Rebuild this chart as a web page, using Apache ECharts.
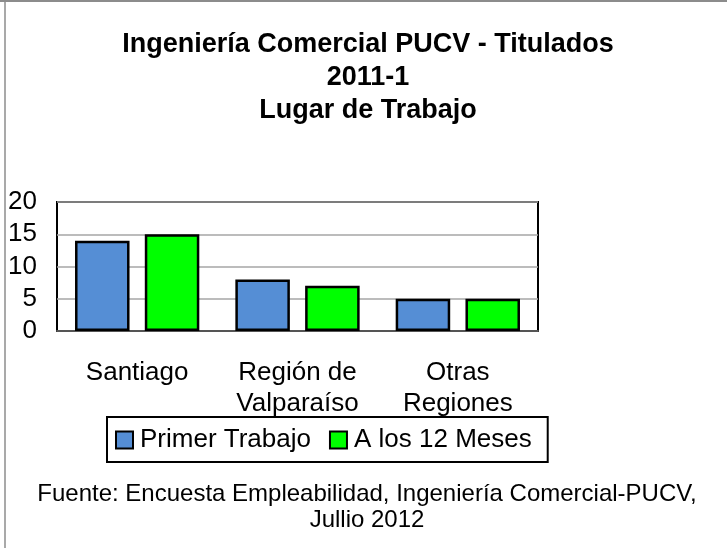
<!DOCTYPE html>
<html>
<head>
<meta charset="utf-8">
<script src="https://cdn.jsdelivr.net/npm/echarts@6/dist/echarts.min.js"></script>
<style>
  html, body { margin: 0; padding: 0; background: #fff; }
  #chart { width: 727px; height: 548px; }
</style>
</head>
<body>
<div id="chart"></div>
<script>
const categories = ['Santiago', 'Región de\nValparaíso', 'Otras\nRegiones']
const primerTrabajo = [14, 8, 5]
const aLos12Meses = [15, 7, 5]
const seriesNames = ['Primer Trabajo', 'A los 12 Meses']
const titleText = 'Ingeniería Comercial PUCV - Titulados\n2011-1\nLugar de Trabajo'
const sourceText = 'Fuente: Encuesta Empleabilidad, Ingeniería Comercial-PUCV,\nJullio 2012'

const font = 'Arial, "Liberation Sans", sans-serif'
const chart = echarts.init(document.getElementById('chart'))

chart.setOption({
  animation: false,
  textStyle: { fontFamily: font },
  title: [
    {
      text: titleText,
      left: 363,
      top: 23,
      textAlign: 'center',
      textStyle: { fontSize: 27, fontWeight: 'bold', color: '#000', lineHeight: 33, fontFamily: font, align: 'center' }
    },
    {
      text: sourceText,
      left: 362,
      top: 476,
      textAlign: 'center',
      textStyle: { fontSize: 24, fontWeight: 'normal', color: '#000', lineHeight: 26, fontFamily: font, align: 'center' }
    }
  ],
  legend: {
    data: seriesNames,
    left: 107,
    top: 417,
    orient: 'horizontal',
    icon: 'rect',
    itemWidth: 17,
    itemHeight: 17,
    itemGap: 18,
    padding: [10, 16, 9, 8],
    borderColor: '#000',
    borderWidth: 2,
    textStyle: { fontSize: 26, color: '#000', fontFamily: font, padding: [0, 0, 0, 2] }
  },
  grid: {
    left: 57,
    top: 202,
    width: 481,
    height: 129,
    show: true,
    borderColor: '#000',
    borderWidth: 2,
    containLabel: false
  },
  xAxis: {
    type: 'category',
    data: categories,
    axisTick: { show: false },
    axisLine: { lineStyle: { color: '#555', width: 2 } },
    axisLabel: { fontSize: 26, color: '#000', margin: 26, lineHeight: 31, interval: 0, fontFamily: font }
  },
  yAxis: {
    type: 'value',
    min: 0,
    max: 20,
    interval: 5,
    axisLine: { show: false },
    axisTick: { show: false },
    splitLine: { lineStyle: { color: '#a6a6a6', width: 1.5 } },
    axisLabel: { fontSize: 26, color: '#000', margin: 20, fontFamily: font }
  },
  series: [
    {
      name: seriesNames[0],
      type: 'bar',
      data: primerTrabajo,
      barWidth: '34%',
      barGap: '28%',
      itemStyle: { color: '#558ed5', borderColor: '#000', borderWidth: 2.5 }
    },
    {
      name: seriesNames[1],
      type: 'bar',
      data: aLos12Meses,
      barWidth: '34%',
      itemStyle: { color: '#00ff00', borderColor: '#000', borderWidth: 2.5 }
    }
  ],
  graphic: [
    { type: 'line', shape: { x1: 0, y1: 1, x2: 727, y2: 1 }, style: { stroke: '#8c8c8c', lineWidth: 2 } },
    { type: 'line', shape: { x1: 5, y1: 0, x2: 5, y2: 548 }, style: { stroke: '#8c8c8c', lineWidth: 1.5 } }
  ]
})
</script>
</body>
</html>
